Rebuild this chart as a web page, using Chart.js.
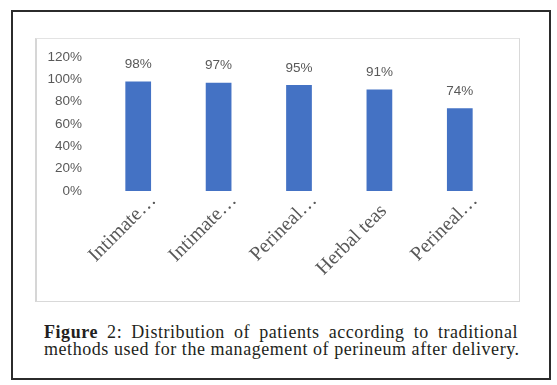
<!DOCTYPE html>
<html>
<head>
<meta charset="utf-8">
<script src="https://cdn.jsdelivr.net/npm/chart.js@4.4.0/dist/chart.umd.min.js"></script>
<style>
  body { margin: 0; background: #fff; }
  #frame { position: absolute; left: 11px; top: 10px; width: 540px; height: 370px; box-sizing: border-box; border: 2px solid #2b2b2b; }
  #plot { position: absolute; left: 35px; top: 38px; width: 485px; height: 264px; box-sizing: border-box;
          border: 1px solid #e3e3e3; border-left: 2px solid #d6d6d6; border-bottom-color: #d9d9d9; border-right-color: #d9d9d9; }
  #plot canvas { display: block; }
  .cap { position: absolute; left: 44px; width: 474px; font: 18px "Liberation Serif", serif; line-height: 17px;
         letter-spacing: 0.55px; color: #231f20; white-space: nowrap; }
  #cap1 { top: 324px; text-align: justify; text-align-last: justify; }
  #cap2 { top: 341px; }
</style>
</head>
<body>
<div id="frame"></div>
<div id="plot"><canvas id="methodsChart" width="482" height="262"></canvas></div>
<div class="cap" id="cap1"><b>Figure</b> 2: Distribution of patients according to traditional</div>
<div class="cap" id="cap2">methods used for the management of perineum after delivery.</div>
<script>
const methods = ["Intimate…", "Intimate…", "Perineal…", "Herbal teas", "Perineal…"];
const shares = [98, 97, 95, 91, 74];
const yTicks = [0, 20, 40, 60, 80, 100, 120];

const tickColor = "#595959";
const barColor = "#4472c4";

const valueLabels = {
  id: "valueLabels",
  afterDatasetsDraw(chart) {
    const { ctx } = chart;
    const meta = chart.getDatasetMeta(0);
    ctx.save();
    ctx.font = '13.5px "Liberation Sans", sans-serif';
    ctx.fillStyle = tickColor;
    ctx.textAlign = "center";
    ctx.textBaseline = "middle";
    meta.data.forEach((bar, i) => {
      ctx.fillText(shares[i] + "%", bar.x, bar.y - 17);
    });
    ctx.restore();
  }
};

new Chart(document.getElementById("methodsChart").getContext("2d"), {
  type: "bar",
  data: {
    labels: methods,
    datasets: [{ data: shares, backgroundColor: barColor, borderWidth: 0, barPercentage: 0.32, categoryPercentage: 1 }]
  },
  options: {
    responsive: false,
    animation: false,
    layout: { padding: { top: 18, right: 19, bottom: 0, left: 0 } },
    plugins: { legend: { display: false }, tooltip: { enabled: false } },
    scales: {
      x: {
        grid: { display: false, drawTicks: false },
        border: { display: false },
        afterFit: s => { s.height = 110; },
        ticks: {
          color: tickColor,
          font: { family: '"Liberation Serif", serif', size: 20 },
          minRotation: 45,
          maxRotation: 45,
          autoSkip: false,
          labelOffset: 15,
          padding: -2,
          callback: function (v, i) {
            const t = methods[i];
            return t.endsWith("…") ? t : t + "   ";
          }
        }
      },
      y: {
        min: 0,
        max: yTicks[yTicks.length - 1],
        grid: { display: false, drawTicks: false },
        border: { display: false },
        afterFit: s => { s.width = 61; s.paddingTop = 0; },
        afterBuildTicks: s => { s.ticks = yTicks.map(v => ({ value: v })); },
        ticks: {
          color: tickColor,
          font: { family: '"Liberation Sans", sans-serif', size: 13.5 },
          padding: 16,
          callback: v => v + "%"
        }
      }
    }
  },
  plugins: [valueLabels]
});
</script>
</body>
</html>
